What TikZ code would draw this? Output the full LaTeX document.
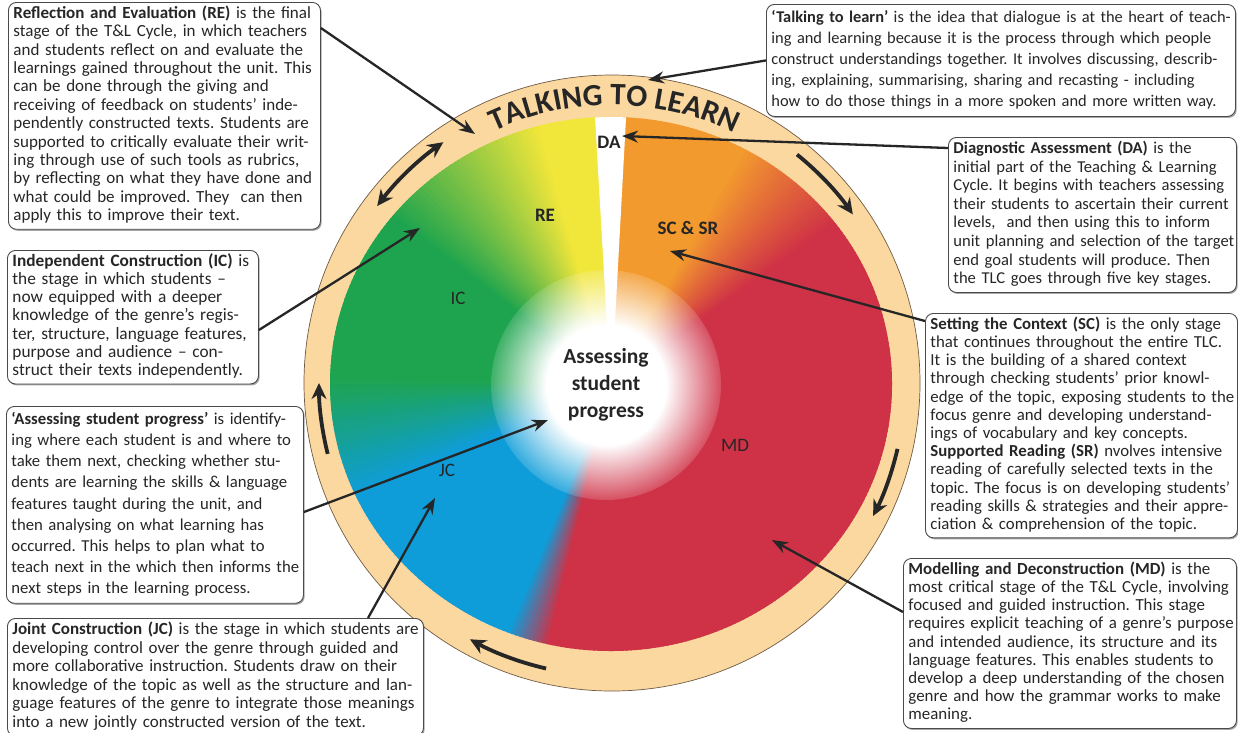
\documentclass[tikz,border=0pt]{standalone}
\usepackage{fontspec}
\setmainfont{Carlito}
\usetikzlibrary{arrows.meta,calc,shadows,fadings,decorations.text}
\frenchspacing

\definecolor{ringfill}{HTML}{FBD8A0}
\definecolor{ringline}{HTML}{6E5B45}
\definecolor{cy}{HTML}{F1E63A}
\definecolor{cg}{HTML}{1EA44E}
\definecolor{cb}{HTML}{0E9DD9}
\definecolor{cr}{HTML}{CF3146}
\definecolor{co}{HTML}{F39A2E}
\definecolor{ink}{HTML}{262626}
\definecolor{boxline}{HTML}{4A4A4A}

% soft white spot in the middle of the wheel
\pgfdeclareradialshading{spotshading}{\pgfpointorigin}{color(0bp)=(white); color(13bp)=(white); color(27bp)=(black); color(50bp)=(black)}
\pgfdeclarefading{spotfade}{\pgfuseshading{spotshading}}

% one angular colour band of the wheel, in thin overlapping wedges
\newcommand\wheelband[4]{%
  \pgfmathtruncatemacro\bandlast{#2-1}%
  \foreach \v in {#1,...,\bandlast}{%
    \pgfmathtruncatemacro\bandmix{100*(\v-#1)/(#2-#1)}%
    \fill[#4!\bandmix!#3] (D) -- +(-\v:300) -- +(-\v-1.6:300) -- cycle;}}

\newcommand\boxlines[1]{\begin{tabular}{@{}l@{}}#1\end{tabular}}

\tikzset{
  infobox/.style={draw=boxline, line width=0.9pt, rounded corners=8pt, fill=white,
    anchor=north west, inner xsep=5pt, inner ysep=3pt, align=left, text=ink,
    drop shadow={shadow xshift=1.2pt, shadow yshift=-1.5pt, opacity=0.35, fill=black}},
  wlabel/.style={font=\fontsize{19}{22}\selectfont, text=ink, inner sep=0pt},
  conn/.style={draw=ink, line width=2.3pt, -{Stealth[length=16pt,width=12pt]}},
  ringarrow/.style={draw=ink, line width=3.8pt, -{Stealth[length=16pt,width=15pt]}},
}

\begin{document}
\begin{tikzpicture}[x=1pt,y=-1pt]
\useasboundingbox (0,0) rectangle (1238,732);
\fill[white] (0,0) rectangle (1238,732);

\coordinate (C) at (612,383);
\coordinate (D) at (611,384);

% outer "talking to learn" ring
\filldraw[fill=ringfill, draw=ringline, line width=0.7pt] (C) circle (308);

% colour wheel of the stages
\begin{scope}
  \clip (D) circle [x radius=281, y radius=267];
  \wheelband{92}{105}{cy}{cy}
  \wheelband{105}{142}{cy}{cg}
  \wheelband{142}{178}{cg}{cg}
  \wheelband{178}{203}{cg}{cb}
  \wheelband{203}{247}{cb}{cb}
  \wheelband{247}{256}{cb}{cr}
  \wheelband{256}{395}{cr}{cr}
  \wheelband{395}{420}{cr}{co}
  \wheelband{420}{449}{co}{co}
  % gap for the diagnostic assessment
  \fill[white] (611,395) -- (594,100) -- (627,100) -- cycle;
  \fill[white, path fading=spotfade] (606,385) circle (115);
\end{scope}

% ring title
\path[decorate, decoration={text along path, text align=center,
    text={|\fontsize{31}{31}\selectfont\bfseries\color{ink}|TALKING TO LEARN}}]
  ($(C)+(-117:278)$) arc[start angle=-117, end angle=-62, radius=278];

% cycle arrows on the ring
\draw[ringarrow, {Stealth[length=16pt,width=15pt]}-{Stealth[length=16pt,width=15pt]}]
  ($(C)+(-143:294)$) arc[start angle=-143, end angle=-125, radius=294];
\draw[ringarrow] ($(C)+(-51:294)$) arc[start angle=-51, end angle=-35, radius=294];
\draw[ringarrow] ($(C)+(13:293)$) arc[start angle=13, end angle=27, radius=293];
\draw[ringarrow] ($(C)+(-257:293)$) arc[start angle=-257, end angle=-241, radius=293];
\draw[ringarrow] ($(C)+(-194:293)$) arc[start angle=-194, end angle=-180, radius=293];

% stage labels
\node[wlabel, font=\fontsize{19}{22}\selectfont\bfseries] (lda) at (609,142) {DA};
\node[wlabel, font=\fontsize{19}{22}\selectfont\bfseries] (lre) at (545,215) {RE};
\node[wlabel, font=\fontsize{19}{22}\selectfont\bfseries] (lsc) at (688,228) {SC \& SR};
\node[wlabel] (lic) at (458,298) {IC};
\node[wlabel] (ljc) at (447,470) {JC};
\node[wlabel] (lmd) at (735,445) {MD};
\node[wlabel, font=\fontsize{21.5}{27}\selectfont\bfseries, align=center] (lasp) at (606,385)
  {Assessing\\student\\progress};

% description boxes
\node[infobox, text width=302, minimum height=225, font=\fontsize{17}{18.4}\selectfont] (re) at (8,2) {\boxlines{%
\textbf{Reflection and Evaluation (RE)} is the final\\
stage of the T\&L Cycle, in which teachers\\
and students reflect on and evaluate the\\
learnings gained throughout the unit. This\\
can be done through the giving and\\
receiving of feedback on students’ inde-\\
pendently constructed texts. Students are\\
supported to critically evaluate their writ-\\
ing through use of such tools as rubrics,\\
by reflecting on what they have done and\\
what could be improved. They\ \ can then\\
apply this to improve their text.}};

\node[infobox, text width=459, minimum height=112, font=\fontsize{16.4}{21}\selectfont] (talk) at (766,4) {\boxlines{%
\textbf{‘Talking to learn’} is the idea that dialogue is at the heart of teach-\\
ing and learning because it is the process through which people\\
construct understandings together. It involves discussing, describ-\\
ing, explaining, summarising, sharing and recasting - including\\
how to do those things in a more spoken and more written way.}};

\node[infobox, text width=278, minimum height=155, font=\fontsize{16.6}{18.6}\selectfont] (da) at (948,137) {\boxlines{%
\textbf{Diagnostic Assessment (DA)} is the\\
initial part of the Teaching \& Learning\\
Cycle. It begins with teachers assessing\\
their students to ascertain their current\\
levels,\ \ and then using this to inform\\
unit planning and selection of the target\\
end goal students will produce. Then\\
the TLC goes through five key stages.}};

\node[infobox, text width=302, minimum height=224, font=\fontsize{16.8}{18.2}\selectfont] (sc) at (925,313) {\boxlines{%
\textbf{Setting the Context (SC)} is the only stage\\
that continues throughout the entire TLC.\\
It is the building of a shared context\\
through checking students’ prior knowl-\\
edge of the topic, exposing students to the\\
focus genre and developing understand-\\
ings of vocabulary and key concepts.\\
\textbf{Supported Reading (SR)} nvolves intensive\\
reading of carefully selected texts in the\\
topic. The focus is on developing students’\\
reading skills \& strategies and their appre-\\
ciation \& comprehension of the topic.}};

\node[infobox, text width=323, minimum height=170, font=\fontsize{16.9}{18.1}\selectfont] (md) at (903,558) {\boxlines{%
\textbf{Modelling and Deconstruction (MD)} is the\\
most critical stage of the T\&L Cycle, involving\\
focused and guided instruction. This stage\\
requires explicit teaching of a genre’s purpose\\
and intended audience, its structure and its\\
language features. This enables students to\\
develop a deep understanding of the chosen\\
genre and how the grammar works to make\\
meaning.}};

\node[infobox, text width=241, minimum height=133, font=\fontsize{17.3}{18.2}\selectfont] (ic) at (7,250) {\boxlines{%
\textbf{Independent Construction (IC)} is\\
the stage in which students –\\
now equipped with a deeper\\
knowledge of the genre’s regis-\\
ter, structure, language features,\\
purpose and audience – con-\\
struct their texts independently.}};

\node[infobox, text width=287, minimum height=191, font=\fontsize{16.7}{21.2}\selectfont] (asp) at (6,406) {\boxlines{%
\textbf{‘Assessing student progress’} is identify-\\
ing where each student is and where to\\
take them next, checking whether stu-\\
dents are learning the skills \& language\\
features taught during the unit, and\\
then analysing on what learning has\\
occurred. This helps to plan what to\\
teach next in the which then informs the\\
next steps in the learning process.}};

\node[infobox, text width=406, minimum height=113, font=\fontsize{17}{18.6}\selectfont] (jc) at (7,618) {\boxlines{%
\textbf{Joint Construction (JC)} is the stage in which students are\\
developing control over the genre through guided and\\
more collaborative instruction. Students draw on their\\
knowledge of the topic as well as the structure and lan-\\
guage features of the genre to integrate those meanings\\
into a new jointly constructed version of the text.}};

% pointers from the descriptions into the wheel
\coordinate (tRE) at (475,134);
\coordinate (tTalk) at (648,80);
\coordinate (tDA) at (622,136);
\coordinate (tSC) at (670,251);
\coordinate (tMD) at (772,540);
\coordinate (tIC) at (420,228);
\coordinate (tASP) at (548,420);
\coordinate (tJC) at (435,498);

\draw[conn] ($(re.north east)+(0,26)$) -- (tRE);
\draw[conn] (talk.west) -- (tTalk);
\draw[conn] ($(da.north west)+(0,11)$) -- (tDA);
\draw[conn] ($(sc.north west)+(0,8)$) -- (tSC);
\draw[conn] ($(md.north west)+(0,54)$) -- (tMD);
\draw[conn] ($(ic.north east)+(0,80)$) -- (tIC);
\draw[conn] ($(asp.north east)+(0,106)$) -- (tASP);
\draw[conn] ($(jc.north west)+(361,0)$) -- (tJC);
\end{tikzpicture}
\end{document}
